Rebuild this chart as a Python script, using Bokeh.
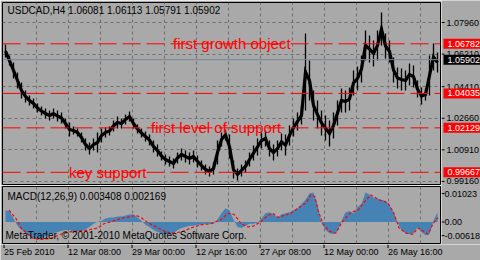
from bokeh.plotting import figure
from bokeh.layouts import column, row
from bokeh.models import Range1d, FixedTicker, Span, Label
from bokeh.core.properties import value
from bokeh.embed import file_html
from bokeh.resources import INLINE

BG = "#A9A9A9"
FONT = "Liberation Sans"
GRID = "#6E6E6E"

# ---- data (H4 bars, grouped in 4-bar bins; bin = first bar index) ----
bin_start = list(range(0, 436, 4))
highs = [1.0674, 1.0613, 1.0575, 1.0519, 1.0464, 1.0420, 1.0392, 1.0375, 1.0348, 1.0331,
         1.0320, 1.0309, 1.0320, 1.0309, 1.0298, 1.0265, 1.0243, 1.0220, 1.0209, 1.0187,
         1.0154, 1.0132, 1.0154, 1.0187, 1.0209, 1.0215, 1.0220, 1.0254, 1.0276, 1.0265,
         1.0287, 1.0303, 1.0265, 1.0232, 1.0209, 1.0193, 1.0176, 1.0143, 1.0121, 1.0082,
         1.0065, 1.0054, 1.0043, 1.0077, 1.0099, 1.0088, 1.0077, 1.0088, 1.0060, 1.0032,
         1.0010, 0.9999, 1.0021, 1.0143, 1.0187, 1.0204, 1.0176, 1.0032, 0.9988, 1.0010,
         1.0032, 1.0077, 1.0115, 1.0154, 1.0187, 1.0198, 1.0143, 1.0121, 1.0143, 1.0182,
         1.0176, 1.0226, 1.0265, 1.0298, 1.0331, 1.0735, 1.0586, 1.0420, 1.0364, 1.0309,
         1.0281, 1.0254, 1.0298, 1.0364, 1.0431, 1.0420, 1.0436, 1.0530, 1.0553, 1.0613,
         1.0752, 1.0724, 1.0696, 1.0752, 1.0851, 1.0735, 1.0696, 1.0602, 1.0547, 1.0541,
         1.0530, 1.0569, 1.0558, 1.0475, 1.0436, 1.0431, 1.0613, 1.0680, 1.0630]
lows = [1.0602, 1.0558, 1.0486, 1.0431, 1.0375, 1.0353, 1.0337, 1.0320, 1.0298, 1.0281,
        1.0265, 1.0254, 1.0265, 1.0248, 1.0237, 1.0209, 1.0165, 1.0176, 1.0165, 1.0132,
        1.0088, 1.0065, 1.0088, 1.0077, 1.0132, 1.0160, 1.0171, 1.0193, 1.0209, 1.0209,
        1.0232, 1.0248, 1.0209, 1.0182, 1.0160, 1.0137, 1.0115, 1.0077, 1.0054, 1.0032,
        1.0010, 0.9999, 0.9988, 1.0016, 1.0032, 1.0021, 1.0010, 1.0021, 0.9994, 0.9977,
        0.9955, 0.9944, 0.9955, 1.0010, 1.0110, 1.0143, 1.0043, 0.9933, 0.9922, 0.9944,
        0.9966, 0.9999, 1.0032, 1.0060, 1.0099, 1.0110, 1.0054, 1.0032, 1.0054, 1.0088,
        1.0060, 1.0115, 1.0165, 1.0198, 1.0232, 1.0309, 1.0364, 1.0254, 1.0209, 1.0171,
        1.0143, 1.0110, 1.0154, 1.0226, 1.0298, 1.0298, 1.0309, 1.0392, 1.0420, 1.0464,
        1.0586, 1.0575, 1.0553, 1.0586, 1.0669, 1.0597, 1.0575, 1.0464, 1.0431, 1.0420,
        1.0420, 1.0447, 1.0436, 1.0381, 1.0342, 1.0364, 1.0392, 1.0530, 1.0519]

macd = [0.0034, 0.0031, 0.0010, -0.0011, -0.0023, -0.0032, -0.0041, -0.0047, -0.0050, -0.0047,
        -0.0041, -0.0035, -0.0032, -0.0029, -0.0026, -0.0023, -0.0023, -0.0029, -0.0026, -0.0026,
        -0.0020, -0.0014, -0.0005, 0.0001, 0.0004, 0.0010, 0.0013, 0.0013, 0.0016, 0.0016,
        0.0019, 0.0022, 0.0022, 0.0013, 0.0004, -0.0008, -0.0014, -0.0023, -0.0029, -0.0032,
        -0.0035, -0.0035, -0.0032, -0.0023, -0.0017, -0.0014, -0.0011, -0.0011, -0.0008, -0.0008,
        -0.0005, -0.0005, -0.0005, 0.0007, 0.0025, 0.0040, 0.0034, 0.0007, -0.0014, -0.0017,
        -0.0011, -0.0005, -0.0005, -0.0002, 0.0010, 0.0025, 0.0028, 0.0022, 0.0013, 0.0022,
        0.0025, 0.0028, 0.0034, 0.0040, 0.0052, 0.0064, 0.0082, 0.0085, 0.0049, -0.0002,
        -0.0023, -0.0032, -0.0035, -0.0026, 0.0004, 0.0028, 0.0031, 0.0025, 0.0043, 0.0052,
        0.0085, 0.0079, 0.0070, 0.0067, 0.0064, 0.0061, 0.0049, 0.0028, -0.0002, -0.0023,
        -0.0032, -0.0035, -0.0032, -0.0014, -0.0029, -0.0038, -0.0035, 0.0004, 0.0028]

signal_bars = [5, 12, 17, 24, 29, 37, 47, 57, 64, 74, 84, 94, 100, 107, 117, 127, 132, 137,
               144, 150, 160, 167, 177, 187, 197, 207, 217, 224, 230, 235, 237, 244, 250, 257,
               264, 269, 274, 280, 287, 294, 302, 307, 311, 314, 319, 325, 332, 337, 342, 347,
               354, 362, 367, 375, 384, 390, 395, 402, 409, 414, 419, 424, 429, 434]
signal = [0.0034, 0.0010, -0.0017, -0.0035, -0.0047, -0.0050, -0.0047, -0.0035, -0.0029, -0.0026,
          -0.0023, -0.0017, -0.0005, 0.0001, 0.0010, 0.0016, 0.0019, 0.0013, -0.0002, -0.0011,
          -0.0026, -0.0032, -0.0029, -0.0017, -0.0008, -0.0005, 0.0007, 0.0025, 0.0022, 0.0004,
          -0.0005, -0.0014, -0.0011, 0.0001, 0.0019, 0.0025, 0.0013, 0.0019, 0.0025, 0.0040,
          0.0055, 0.0078, 0.0073, 0.0034, -0.0005, -0.0026, -0.0032, -0.0005, 0.0013, 0.0028,
          0.0034, 0.0064, 0.0078, 0.0064, 0.0055, 0.0025, -0.0017, -0.0032, -0.0035, -0.0017,
          -0.0026, -0.0035, -0.0005, 0.0013]

level_prices = [1.06782, 1.04035, 1.02129, 0.99667]
level_labels = ["1.06782", "1.04035", "1.02129", "0.99667"]
level_texts = ["first growth object", "first level of support", "key support"]
level_text_prices = [1.06782, 1.02129, 0.99667]
level_text_bars = [169, 147, 65]
bid = 1.05902
bid_label = "1.05902"

price_ticks = [1.07960, 1.06210, 1.04410, 1.02660, 1.00910, 0.99160]
price_labels = ["1.07960", "1.06210", "1.04410", "1.02660", "1.00910", "0.99160"]
time_ticks = [0, 64, 128, 192, 256, 320, 384]
time_labels = ["25 Feb 2010", "12 Mar 08:00", "29 Mar 00:00", "12 Apr 16:00",
               "27 Apr 08:00", "12 May 00:00", "26 May 16:00"]
vgrid_ticks = [32, 64, 96, 128, 160, 192, 224, 256, 288, 320, 352, 384, 416]
macd_tick_pos = [0.0082, 0.0, -0.0039]
macd_tick_labels = ["0.01023", "0.00", "-0.00618"]

title_text = "USDCAD,H4  1.06081 1.06113 1.05791 1.05902"
macd_text = "MACD(12,26,9) 0.003408 0.002169"
copyright_text = "MetaTrader, \u00a9 2001-2010 MetaQuotes Software Corp."

bin_x = [b + 1.5 for b in bin_start]
mids = [(h + l) / 2 for h, l in zip(highs, lows)]


def base(p):
    p.background_fill_color = BG
    p.border_fill_color = BG
    p.min_border_left = 0
    p.min_border_right = 0
    p.min_border_top = 0
    p.min_border_bottom = 0


xr = Range1d(-1.5, 436.5)

# ---- main price panel ----
p1 = figure(width=441, height=185, x_range=xr, y_range=Range1d(0.98994, 1.09067),
            x_axis_location=None, y_axis_location=None,
            toolbar_location=None, output_backend="svg")
base(p1)
p1.min_border_left = 2
p1.min_border_right = 1
p1.min_border_top = 2
p1.min_border_bottom = 1
p1.outline_line_color = "black"
p1.ygrid.ticker = FixedTicker(ticks=price_ticks)
p1.xgrid.ticker = FixedTicker(ticks=vgrid_ticks)
for g in (p1.xgrid, p1.ygrid):
    g.grid_line_color = GRID
    g.grid_line_dash = "3 3"

p1.add_layout(Span(location=bid, dimension="width", line_color="#778899", line_width=1))
for lp in level_prices:
    p1.add_layout(Span(location=lp, dimension="width", line_color="red",
                       line_width=1, line_dash="18 6"))

# high-low ranges as thin bars, and the price path through the bin midpoints
p1.segment(x0=bin_x, x1=bin_x, y0=lows, y1=highs, line_color="black", line_width=1.3)
p1.line(x=bin_x, y=mids, line_color="black", line_width=3.2, line_join="miter")

p1.text(x=level_text_bars, y=level_text_prices, text=level_texts, text_color="red",
        text_font=value(FONT), text_font_size="15px", text_baseline="middle",
        text_align="left")

p1.add_layout(Label(x=3.5, y=1.0860, text=title_text, text_font=FONT,
                    text_font_size="10px", text_color="black", text_baseline="middle"))

# ---- MACD panel ----
p2 = figure(width=441, height=59, x_range=xr, y_range=Range1d(-0.00618, 0.01023),
            x_axis_location=None, y_axis_location=None,
            toolbar_location=None, output_backend="svg")
base(p2)
p2.min_border_left = 2
p2.min_border_right = 1
p2.min_border_top = 1
p2.min_border_bottom = 1
p2.outline_line_color = "black"
p2.ygrid.visible = False
p2.xgrid.ticker = FixedTicker(ticks=vgrid_ticks)
p2.xgrid.grid_line_color = GRID
p2.xgrid.grid_line_dash = "3 3"

p2.varea(x=bin_x, y1=0, y2=macd, fill_color="#4682B4")
p2.line(x=signal_bars, y=signal, line_color="red", line_width=1.2, line_dash="3 2")

p2.add_layout(Label(x=3.5, y=0.0073, text=macd_text, text_font=FONT,
                    text_font_size="10px", text_color="black", text_baseline="middle"))
p2.add_layout(Label(x=1.5, y=-0.0039, text=copyright_text, text_font=FONT,
                    text_font_size="10px", text_color="black", text_baseline="middle"))

# ---- right price scale strip (price scale + MACD scale) ----
pr = figure(width=39, height=244, x_range=Range1d(441, 480),
            y_range=Range1d(0.95673, 1.09178),
            x_axis_location=None, y_axis_location=None,
            toolbar_location=None, output_backend="svg")
base(pr)
pr.outline_line_color = None
pr.grid.visible = False
pr.extra_y_ranges = {"macd": Range1d(-0.00647, 0.06378)}

pr.segment(x0=441, x1=444, y0=price_ticks, y1=price_ticks, line_color="black")
pr.text(x=446, y=price_ticks, text=price_labels, text_font=value(FONT),
        text_font_size="9px", text_baseline="middle", text_color="black")
pr.rect(x=461.5, y=level_prices, width=37, height=10, height_units="screen",
        fill_color="red", line_color=None)
pr.text(x=447, y=level_prices, text=level_labels, text_font=value(FONT),
        text_font_size="9px", text_baseline="middle", text_color="white")
pr.rect(x=[461.5], y=[bid], width=37, height=10, height_units="screen",
        fill_color="black", line_color=None)
pr.text(x=[447], y=[bid], text=[bid_label], text_font=value(FONT),
        text_font_size="9px", text_baseline="middle", text_color="white")

pr.segment(x0=441, x1=444, y0=macd_tick_pos, y1=macd_tick_pos, line_color="black",
           y_range_name="macd")
pr.text(x=444, y=macd_tick_pos, text=macd_tick_labels, text_font=value(FONT),
        text_font_size="9px", text_baseline="middle", text_color="black",
        y_range_name="macd")

# ---- time scale strip ----
pt = figure(width=480, height=16, x_range=Range1d(-3.5, 476.5), y_range=Range1d(0, 16),
            x_axis_location=None, y_axis_location=None,
            toolbar_location=None, output_backend="svg")
base(pt)
pt.outline_line_color = None
pt.grid.visible = False
pt.segment(x0=time_ticks, x1=time_ticks, y0=16, y1=12.5, line_color="black")
pt.text(x=time_ticks, y=8.5, text=time_labels, text_font=value(FONT),
        text_font_size="9px", text_baseline="middle", text_align="left",
        text_color="black")

layout = column(row(column(p1, p2, spacing=0), pr, spacing=0), pt, spacing=0)
open("out.html", "w").write(file_html(layout, INLINE))
